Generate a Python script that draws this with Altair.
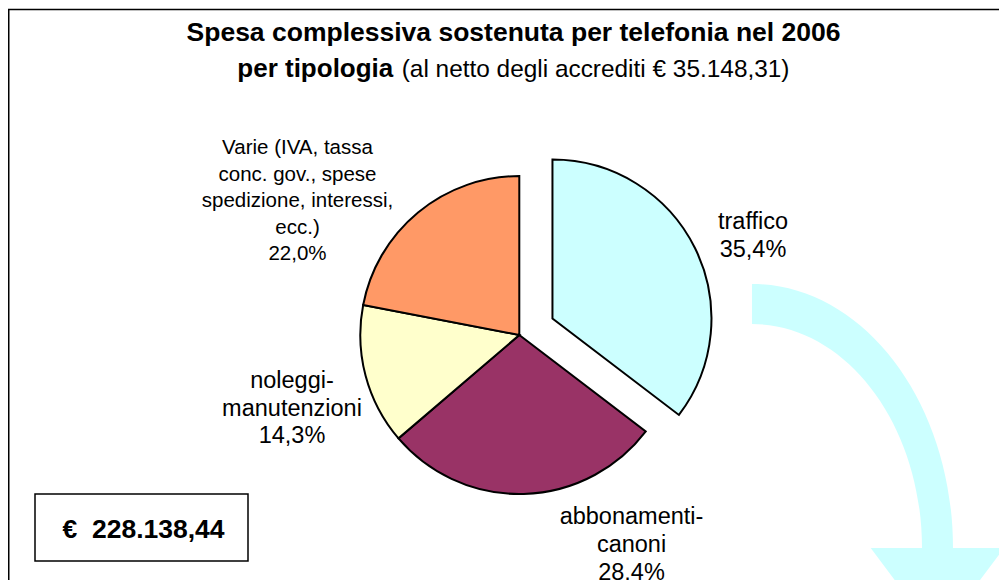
import math
import altair as alt
import pandas as pd

# ---- data -------------------------------------------------------------
keys = ["traffico", "abbonamenti", "noleggi", "varie"]
categories = [
    "traffico",
    "abbonamenti-\ncanoni",
    "noleggi-\nmanutenzioni",
    "Varie (IVA, tassa\nconc. gov., spese\nspedizione, interessi,\necc.)",
]
values = [35.4, 28.4, 14.3, 22.0]
colors = ["#CCFFFF", "#993366", "#FFFFCC", "#FF9966"]

title_line1 = "Spesa complessiva sostenuta per telefonia nel 2006"
title_bold = "per tipologia"
title_rest = "(al netto degli accrediti € 35.148,31)"
total_text = "€\u00a0 228.138,44"

FONT = "Liberation Sans"

labels = [c + "\n" + f"{v:.1f}".replace(".", ",") + "%" for c, v in zip(categories, values)]
df = pd.DataFrame({
    "key": keys,
    "label": labels,
    "value": values,
    "order": list(range(len(keys))),
    "color": colors,
})

# ---- layout (chart pixel coordinates) ----------------------------------
CX, CY, R = 511.3, 327.0, 159
EXPLODE = 37
mid = values[0] / 2 / sum(values) * 2 * math.pi
EX, EY = CX + EXPLODE * math.sin(mid), CY - EXPLODE * math.cos(mid)

one = pd.DataFrame({"d": [0]})
base = alt.Chart(df)


def pie(cx, cy, test):
    return base.mark_arc(radius=R, stroke="black", strokeWidth=2, strokeJoin="miter").encode(
        theta=alt.Theta("value:Q", stack=True),
        order=alt.Order("order:Q"),
        color=alt.Color("color:N", scale=None),
        opacity=alt.condition(test, alt.value(1), alt.value(0)),
        x=alt.value(cx),
        y=alt.value(cy),
    )


def label(key, x, y, size, lh):
    return base.transform_filter(alt.datum.key == key).mark_text(
        align="center", baseline="alphabetic", font=FONT, fontSize=size,
        lineHeight=lh, lineBreak="\n", color="black",
    ).encode(text="label:N", x=alt.value(x), y=alt.value(y))


def txt(s, x, y, size, bold, align="center"):
    return alt.Chart(pd.DataFrame({"t": [s]})).mark_text(
        align=align, baseline="alphabetic", font=FONT, fontSize=size,
        fontWeight="bold" if bold else "normal", color="black",
    ).encode(text="t:N", x=alt.value(x), y=alt.value(y))


border = alt.Chart(one).mark_rect(fillOpacity=0, stroke="black", strokeWidth=1.5).encode(
    x=alt.value(0.75), x2=alt.value(1200), y=alt.value(1.5), y2=alt.value(1200)
)

box = alt.Chart(one).mark_rect(fill="white", stroke="black", strokeWidth=1.5).encode(
    x=alt.value(27), x2=alt.value(240), y=alt.value(486), y2=alt.value(553)
)

arrow_path = (
    "M 0 -264 C 111 -264 201 -145.8 201 0 L 252 0 L 185.4 89 L 118.7 0 "
    "L 170 0 C 170 -123.7 93.9 -224 0 -224 Z"
)
arrow = alt.Chart(one).mark_point(
    shape=arrow_path, filled=True, color="#CCFFFF", size=4, opacity=1, strokeWidth=0
).encode(x=alt.value(744), y=alt.value(540))

chart = alt.layer(
    border,
    arrow,
    pie(CX, CY, "datum.key != 'traffico'"),
    pie(EX, EY, "datum.key == 'traffico'"),
    label("varie", 289.5, 146, 20.5, 26.5),
    label("traffico", 745, 221, 23.5, 27.5),
    label("noleggi", 284, 380, 23.5, 27.5),
    label("abbonamenti", 623.5, 516, 23.5, 28),
    txt(title_line1, 505.5, 33, 26.5, True),
    txt(title_bold, 229.3, 69, 26, True, "left"),
    txt(title_rest, 393.7, 69, 24.4, False, "left"),
    box,
    txt(total_text, 135.5, 530, 26.5, True),
).properties(
    width=991, height=572, padding=0, autosize=alt.AutoSizeParams(type="none"),
    background="white",
).configure_view(stroke=None)

chart.save("out.html", embed_options={"renderer": "svg", "actions": False})
